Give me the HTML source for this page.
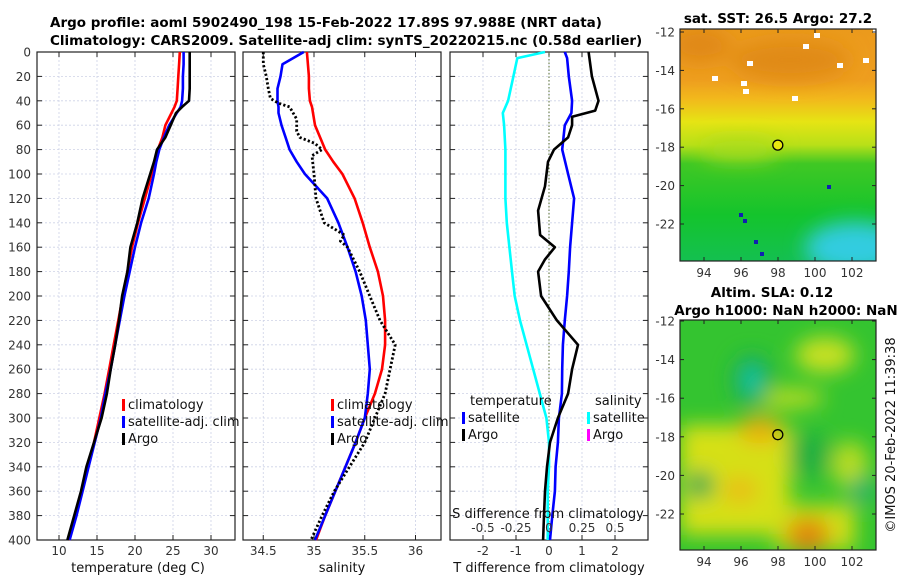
<!DOCTYPE html>
<html><head><meta charset="utf-8">
<style>
html,body{margin:0;padding:0;background:#fff;}
svg{display:block;font-family:"DejaVu Sans","Liberation Sans",sans-serif;}
.tk{font-size:12px;fill:#333;}
.tt{font-size:13.5px;font-weight:bold;fill:#000;}
.lg{font-size:13px;fill:#111;}
</style></head>
<body>
<svg id="fig" width="900" height="580" viewBox="0 0 900 580">
<defs>
<linearGradient id="sstg" x1="0" y1="0" x2="0" y2="1">
<stop offset="0" stop-color="#eb9a1c"/><stop offset="0.22" stop-color="#ee9e1e"/>
<stop offset="0.3" stop-color="#f2b81c"/><stop offset="0.4" stop-color="#e6e414"/>
<stop offset="0.5" stop-color="#b8e018"/><stop offset="0.58" stop-color="#40c824"/>
<stop offset="0.8" stop-color="#14c42c"/><stop offset="1" stop-color="#14c050"/>
</linearGradient>
<filter id="bl" x="-50%" y="-50%" width="200%" height="200%"><feGaussianBlur stdDeviation="10"/></filter>
<clipPath id="m1c"><rect x="680" y="29" width="196" height="232"/></clipPath>
<clipPath id="m2c"><rect x="680" y="320" width="196" height="230"/></clipPath>
</defs>
<g id="root"></g>
</svg>
<script>
// ---- data (depth in dbar) ----
const depths=[0,10,20,30,40,45,50,60,70,80,90,100,120,140,160,180,200,220,240,260,280,300,320,340,360,380,400];
const climT=[25.9,25.8,25.7,25.6,25.5,25.2,24.8,24.0,23.6,23.0,22.6,22.2,21.3,20.4,19.6,19.0,18.4,17.8,17.2,16.6,16.0,15.3,14.6,13.8,13.0,12.2,11.3];
const satT=[26.4,26.4,26.3,26.3,26.2,26.0,25.5,24.5,23.8,23.2,22.8,22.5,21.8,20.8,20.0,19.3,18.6,18.0,17.4,16.8,16.1,15.5,14.7,13.9,13.1,12.3,11.4];
const argoT=[27.2,27.2,27.2,27.2,27.1,26.2,25.4,24.7,24.0,22.9,22.5,22.0,21.0,20.3,19.4,19.0,18.3,17.9,17.4,16.8,16.3,15.6,14.6,13.6,12.9,12.0,11.1];
const climS=[34.93,34.94,34.95,34.95,34.96,34.98,34.99,35.01,35.06,35.11,35.19,35.28,35.40,35.48,35.55,35.63,35.68,35.70,35.70,35.67,35.60,35.50,35.41,35.31,35.21,35.11,35.02];
const satS=[34.90,34.69,34.67,34.64,34.64,34.65,34.65,34.68,34.72,34.76,34.83,34.91,35.13,35.24,35.33,35.41,35.47,35.51,35.53,35.55,35.53,35.50,35.41,35.31,35.21,35.11,35.01];
const argoSdepth=[0,10,20,30,38,42,45,55,65,70,75,80,85,100,120,140,150,155,160,180,200,220,240,260,280,300,320,340,360,380,400];
const argoS=[34.50,34.50,34.53,34.55,34.57,34.65,34.76,34.83,34.83,34.86,35.01,35.08,34.98,35.00,35.02,35.10,35.30,35.26,35.33,35.45,35.55,35.65,35.80,35.75,35.70,35.60,35.50,35.35,35.20,35.08,34.97];
const diffDepth=[0,5,20,40,50,60,80,100,120,140,160,180,200,220,240,260,280,300,320,340,360,380,400];
const satSdiff=[-0.03,-0.24,-0.27,-0.31,-0.35,-0.34,-0.33,-0.33,-0.33,-0.32,-0.30,-0.28,-0.26,-0.22,-0.17,-0.12,-0.07,-0.02,0.0,0.0,-0.01,-0.01,-0.01];
const satTdiff=[0.48,0.55,0.6,0.7,0.68,0.48,0.40,0.58,0.76,0.70,0.64,0.60,0.55,0.48,0.42,0.40,0.39,0.30,0.27,0.20,0.18,0.10,0.03];
const argoTdiffDepth=[0,20,40,48,53,60,70,80,90,110,130,150,160,170,180,200,220,240,260,280,300,320,340,360,380,400];
const argoTdiff=[1.2,1.3,1.5,1.4,0.7,0.7,0.58,0.15,-0.03,-0.12,-0.33,-0.27,0.18,-0.12,-0.33,-0.24,0.24,0.88,0.7,0.58,0.27,0.03,-0.06,-0.12,-0.15,-0.18];
const depthTicks=[0,20,40,60,80,100,120,140,160,180,200,220,240,260,280,300,320,340,360,380,400];
const tTicks=[10,15,20,25,30];
const sTicks=[34.5,35,35.5,36];
const dTicks=[-2,-1,0,1,2];
const sdTicks=[-0.5,-0.25,0,0.25,0.5];
const lonTicks=[94,96,98,100,102];
const latTicks=[-12,-14,-16,-18,-20,-22];

const NS='http://www.w3.org/2000/svg';
const rootG=document.getElementById('root');
function el(tag,attrs,parent,text){const e=document.createElementNS(NS,tag);for(const k in attrs)e.setAttribute(k,attrs[k]);if(text!==undefined)e.textContent=text;(parent||rootG).appendChild(e);return e;}
const yTop=52,yBot=540;
const yD=d=>yTop+d*(yBot-yTop)/400;
const P1={x0:37,x1:235,f:v=>59+(v-10)*7.6};
const P2={x0:243,x1:441,f:v=>314+(v-35)*101.5};
const P3={x0:450,x1:648,f:v=>549+v*33};
const fS3=v=>549+v*132;
const GRID='#cdd2e6';

function panel(p,name,xticks,fx,labelFn){
  const g=el('g',{});
  
  
  depthTicks.forEach(d=>{el('line',{x1:p.x0,x2:p.x1,y1:yD(d),y2:yD(d),stroke:GRID,'stroke-width':0.8,'stroke-dasharray':'2,2'},g);
    el('line',{x1:p.x0,x2:p.x0+5,y1:yD(d),y2:yD(d),stroke:'#222'},g);
    el('line',{x1:p.x1-5,x2:p.x1,y1:yD(d),y2:yD(d),stroke:'#222'},g);});
  xticks.forEach(v=>{const x=fx(v);el('line',{x1:x,x2:x,y1:yTop,y2:yBot,stroke:GRID,'stroke-width':0.8,'stroke-dasharray':'2,2'},g);
    el('line',{x1:x,x2:x,y1:yBot-5,y2:yBot,stroke:'#222'},g);
    el('line',{x1:x,x2:x,y1:yTop,y2:yTop+5,stroke:'#222'},g);
    if(labelFn){const t=el('text',{x:x,y:yBot+15,'text-anchor':'middle',class:'tk'},g,labelFn(v));}});
  el('rect',{x:p.x0,y:yTop,width:p.x1-p.x0,height:yBot-yTop,fill:'none',stroke:'#222','stroke-width':1.2},g);
  return g;
}
function prof(vals,ds,fx,color,name,dash,w){
  const d=vals.map((v,i)=>(i?'L':'M')+fx(v).toFixed(1)+','+yD(ds[i]).toFixed(1)).join('');
  const a={d:d,fill:'none',stroke:color,'stroke-width':w||2.6,'stroke-linejoin':'round'};
  if(dash)a['stroke-dasharray']=dash;
  const e=el('path',a);
  
  
}
depthTicks.forEach(d=>{const t=el('text',{x:31,y:yD(d)+4.5,'text-anchor':'end',class:'tk'},rootG,String(d));
  });

panel(P1,'temperature-panel',tTicks,P1.f,v=>String(v));
panel(P2,'salinity-panel',sTicks,P2.f,v=>String(v));
panel(P3,'difference-panel',dTicks,P3.f,v=>String(v));
{const z=el('line',{x1:549,x2:549,y1:yTop,y2:yBot,stroke:'#556b2f','stroke-width':1,'stroke-dasharray':'1.5,2'});
 }

prof(climT,depths,P1.f,'#ff0000','climatology-temp-line');
prof(satT,depths,P1.f,'#0000ff','satellite-temp-line');
prof(argoT,depths,P1.f,'#000000','argo-temp-line');
prof(climS,depths,P2.f,'#ff0000','climatology-salinity-line');
prof(satS,depths,P2.f,'#0000ff','satellite-salinity-line');
prof(argoS,argoSdepth,P2.f,'#000000','argo-salinity-line','2.2,2.2',2.8);
prof(satSdiff,diffDepth,fS3,'#00ffff','salinity-satellite-diff-line');
prof(satTdiff,diffDepth,P3.f,'#0000ff','temperature-satellite-diff-line');
prof(argoTdiff,argoTdiffDepth,P3.f,'#000000','temperature-argo-diff-line');

sdTicks.forEach(v=>{const t=el('text',{x:fS3(v),y:532,'text-anchor':'middle',class:'tk'},rootG,String(v));
  });
function txt(x,y,s,cls,name,anchor,extra){const t=el('text',Object.assign({x:x,y:y,class:cls,'text-anchor':anchor||'start'},extra||{}),rootG,s);
  return t;}
txt(548,518,'S difference from climatology','lg','s-diff-axis-title','middle');
txt(138,572,'temperature (deg C)','lg','temperature-axis-title','middle');
txt(342,572,'salinity','lg','salinity-axis-title','middle');
txt(549,572,'T difference from climatology','lg','t-diff-axis-title','middle');
txt(50,27,'Argo profile: aoml 5902490_198 15-Feb-2022 17.89S 97.988E (NRT data)','tt','figure-title-line1');
txt(50,45,'Climatology: CARS2009. Satellite-adj clim: synTS_20220215.nc (0.58d earlier)','tt','figure-title-line2');

function leg(x,y,color,s,name){const r=el('rect',{x:x,y:y-10,width:3,height:12,fill:color});
  
  txt(x+6,y,s,'lg',name);}
leg(122,409,'#ff0000','climatology','legend-climatology');
leg(122,426,'#0000ff','satellite-adj. clim','legend-satellite-adj');
leg(122,443,'#000000','Argo','legend-argo');
leg(331,409,'#ff0000','climatology','legend-climatology-s');
leg(331,426,'#0000ff','satellite-adj. clim','legend-satellite-adj-s');
leg(331,443,'#000000','Argo','legend-argo-s');
txt(470,405,'temperature','lg','legend-temperature-header');
txt(595,405,'salinity','lg','legend-salinity-header');
leg(462,422,'#0000ff','satellite','legend-temp-satellite');
leg(462,439,'#000000','Argo','legend-temp-argo');
leg(587,422,'#00ffff','satellite','legend-sal-satellite');
leg(587,439,'#ff00ff','Argo','legend-sal-argo');

const lonX=v=>704+(v-94)*18.5;
function mapAxes(y0,y1,latY,name){
  const g=el('g',{});
  
  el('rect',{x:680,y:y0,width:196,height:y1-y0,fill:'none',stroke:'#222','stroke-width':1.2},g);
  lonTicks.forEach(v=>{const x=lonX(v);el('line',{x1:x,x2:x,y1:y1,y2:y1-4,stroke:'#222'},g);el('line',{x1:x,x2:x,y1:y0,y2:y0+4,stroke:'#222'},g);
    el('text',{x:x,y:y1+16,'text-anchor':'middle',class:'tk'},g,String(v));});
  latTicks.forEach(v=>{const y=latY(v);el('line',{x1:680,x2:684,y1:y,y2:y,stroke:'#222'},g);el('line',{x1:872,x2:876,y1:y,y2:y,stroke:'#222'},g);
    el('text',{x:675,y:y+4.5,'text-anchor':'end',class:'tk'},g,String(v));});
}
const lat1=v=>32+(-12-v)*19.2;
{const g=el('g',{'clip-path':'url(#m1c)'});
 
 el('rect',{x:680,y:29,width:196,height:232,fill:'url(#sstg)'},g);
 const bl=el('g',{filter:'url(#bl)'},g);
 el('ellipse',{cx:855,cy:248,rx:50,ry:26,fill:'#30cce0'},bl);
 el('ellipse',{cx:790,cy:60,rx:60,ry:20,fill:'#e08a18'},bl);
 el('ellipse',{cx:700,cy:45,rx:30,ry:18,fill:'#e08818'},bl);
 el('ellipse',{cx:740,cy:150,rx:40,ry:10,fill:'#a8dc1c'},bl);
 [[806,47],[817,36],[744,84],[795,99],[876,31],[746,92],[750,64],[715,79],[840,66],[866,61]].forEach(p=>el('rect',{x:p[0]-3,y:p[1]-3,width:6,height:5,fill:'#fff'},g));
 [[741,215],[745,221],[756,242],[829,187],[762,254]].forEach(p=>el('rect',{x:p[0]-2,y:p[1]-2,width:4,height:4,fill:'#1020b0'},g));
}
mapAxes(29,261,lat1,'sst-map');
{const c=el('circle',{cx:lonX(97.99),cy:lat1(-17.89),r:5,fill:'#e8e810',stroke:'#000','stroke-width':1.3});}
txt(778,23,'sat. SST: 26.5 Argo: 27.2','tt','sst-map-title','middle');

const lat2=v=>321+(-12-v)*19.3;
{const g=el('g',{'clip-path':'url(#m2c)'});
 
 el('rect',{x:680,y:320,width:196,height:230,fill:'#34c430'},g);
 const bl=el('g',{filter:'url(#bl)'},g);
 el('rect',{x:680,y:425,width:110,height:110,fill:'#d6e018'},bl);
 el('rect',{x:775,y:505,width:80,height:45,fill:'#d0de18'},bl);
 el('ellipse',{cx:808,cy:535,rx:22,ry:18,fill:'#e08a10'},bl);
 el('ellipse',{cx:760,cy:430,rx:22,ry:14,fill:'#eab010'},bl);
 el('ellipse',{cx:740,cy:490,rx:18,ry:14,fill:'#e8c018'},bl);
 el('ellipse',{cx:825,cy:355,rx:30,ry:18,fill:'#c8e020'},bl);
 el('ellipse',{cx:785,cy:398,rx:40,ry:10,fill:'#b8dc20'},bl);
 el('ellipse',{cx:850,cy:465,rx:18,ry:24,fill:'#b8dc20'},bl);
 el('ellipse',{cx:752,cy:380,rx:20,ry:26,fill:'#1aa850'},bl);
 el('ellipse',{cx:752,cy:380,rx:10,ry:16,fill:'#18c8a8'},bl);
 el('ellipse',{cx:700,cy:485,rx:14,ry:14,fill:'#22a850'},bl);
 el('ellipse',{cx:810,cy:455,rx:22,ry:22,fill:'#20b040'},bl);
 el('ellipse',{cx:862,cy:490,rx:12,ry:14,fill:'#20b070'},bl);
}
mapAxes(320,550,lat2,'sla-map');
{const c=el('circle',{cx:lonX(97.99),cy:lat2(-17.89),r:5,fill:'none',stroke:'#000','stroke-width':1.3});}
txt(772,297,'Altim. SLA: 0.12','tt','sla-map-title','middle');
txt(786,315,'Argo h1000: NaN h2000: NaN','tt','sla-map-subtitle','middle');
txt(895,435,'©IMOS 20-Feb-2022 11:39:38','lg','imos-timestamp','middle',{transform:'rotate(-90 895 435)'});
</script>
</body></html>
